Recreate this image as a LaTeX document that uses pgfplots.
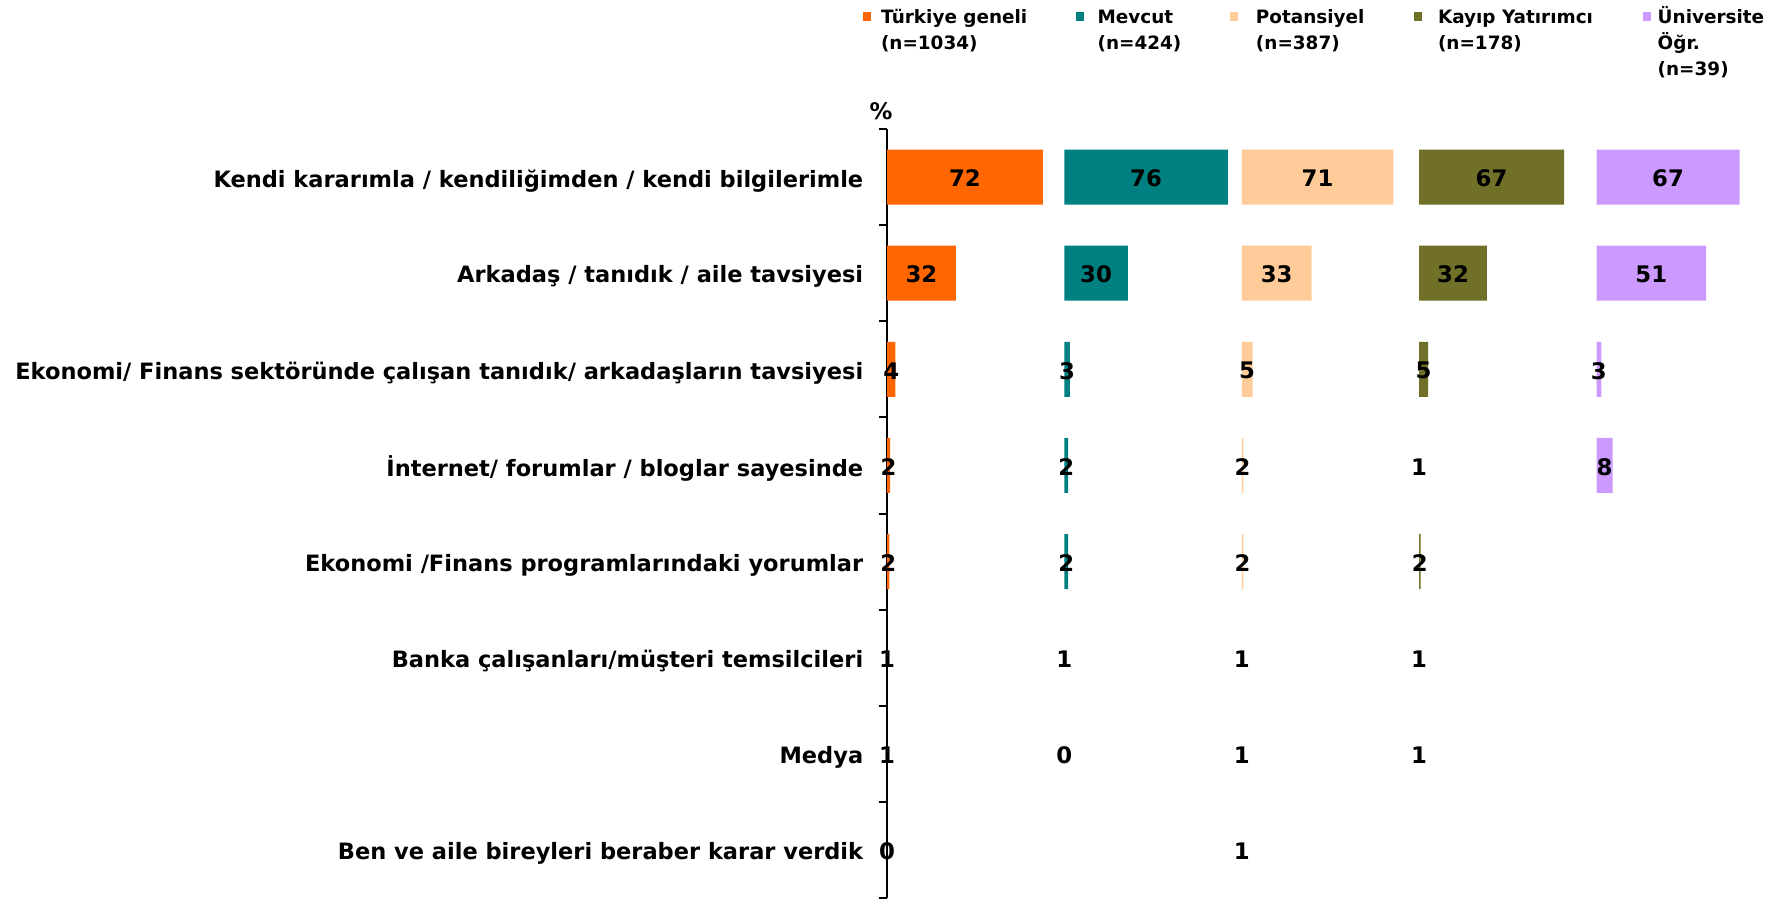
\documentclass[border=0pt]{standalone}
\usepackage{pgfplots}
\pgfplotsset{compat=1.18}
\usepackage{pgfplotstable}
\usepackage{fontspec}
\setmainfont{DejaVu Sans}

\definecolor{cOr}{RGB}{255,102,0}
\definecolor{cTe}{RGB}{0,128,128}
\definecolor{cPe}{RGB}{255,204,153}
\definecolor{cOl}{RGB}{112,112,40}
\definecolor{cLa}{RGB}{204,153,255}

\pgfplotstableread{
row bar lab
1 72.5 72
2 32 32
3 3.9 4
4 1.4 2
5 1.1 2
6 0 1
7 0 1
8 0 0
}\tT
\pgfplotstableread{
row bar lab
1 76 76
2 29.5 30
3 2.5 3
4 1.7 2
5 1.7 2
6 0 1
7 0 0
}\tM
\pgfplotstableread{
row bar lab
1 70.5 71
2 32.5 33
3 5 5
4 0.8 2
5 0.8 2
6 0 1
7 0 1
8 0 1
}\tP
\pgfplotstableread{
row bar lab
1 67.4 67
2 31.5 32
3 4.2 5
4 0 1
5 0.7 2
6 0 1
7 0 1
}\tK
\pgfplotstableread{
row bar lab
1 66.5 67
2 51 51
3 2.2 3
4 7.5 8
}\tU

\pgfplotsset{
  panel/.style={scale only axis, width=430pt, height=384.5pt,
    ymin=0.5, ymax=8.5, y dir=reverse,
    at={(443.5pt,1pt)}, anchor=south west, clip=false,
    legend style={draw=none, fill=none, inner sep=0pt, outer sep=0pt,
      anchor=north west, font=\fontsize{9.2}{13.2}\selectfont\bfseries,
      cells={anchor=base west}, nodes={inner sep=0pt}}},
  barplot/.style={xbar, bar width=27.5pt, draw=none, fill=#1,
    restrict x to domain=0.01:1000,
    legend image code/.code={\fill[##1] (0pt,0.85pt) rectangle (4.2pt,5.35pt);}},
  labplot/.style={only marks, mark=*, mark size=0pt,
    mark options={draw=none, fill=none}, forget plot,
    point meta=explicit symbolic, nodes near coords={\pgfplotspointmeta},
    every node near coord/.append style={font=\fontsize{11.4}{13}\selectfont\bfseries,
      anchor=center, inner sep=0pt, text=black, yshift=-0.7pt}}
}

\begin{document}
\begin{tikzpicture}
\path[use as bounding box] (0,0) rectangle (890.5pt,450pt);
% Panel 1: Türkiye geneli (with the category axis)
\begin{axis}[panel, xmin=0, xmax=400,
  axis x line=none, axis y line*=left,
  axis line style={black, line width=1pt},
  ytick={0.5,1.5,2.5,3.5,4.5,5.5,6.5,7.5,8.5},
  yticklabels={Kendi kararımla / kendiliğimden / kendi bilgilerimle,
    Arkadaş / tanıdık / aile tavsiyesi,
    Ekonomi/ Finans sektöründe çalışan tanıdık/ arkadaşların tavsiyesi,
    İnternet/ forumlar / bloglar sayesinde,
    Ekonomi /Finans programlarındaki yorumlar,
    Banka çalışanları/müşteri temsilcileri,
    Medya,
    Ben ve aile bireyleri beraber karar verdik,{}},
  yticklabel style={font=\fontsize{11.25}{13}\selectfont\bfseries, anchor=east,
    inner sep=0pt, yshift=-25.8pt, xshift=-7.5pt},
  tick align=outside, major tick length=4.2pt,
  ytick style={black, line width=1pt},
  legend style={at={(axis description cs:-0.0279,1.1618)},
    /tikz/every odd column/.append style={column sep=4.8pt}}]
\addplot[barplot=cOr] table[x=bar, y=row] {\tT};
\addlegendentry{\begin{tabular}[t]{@{}l@{}}Türkiye geneli\\(n=1034)\end{tabular}}
\addplot[labplot] table[x expr=\thisrow{bar}/2, y=row, meta=lab] {\tT};
\node[font=\fontsize{11.4}{13}\selectfont\bfseries, inner sep=0pt, anchor=south, yshift=4.5pt]
  at (axis description cs:-0.007,1) {\%};
\end{axis}
% Panel 2: Mevcut
\begin{axis}[panel, hide axis, xmin=-82.5, xmax=317.5,
  legend style={at={(axis description cs:0.2193,1.1618)},
    /tikz/every odd column/.append style={column sep=6.8pt}}]
\addplot[barplot=cTe] table[x=bar, y=row] {\tM};
\addlegendentry{\begin{tabular}[t]{@{}l@{}}Mevcut\\(n=424)\end{tabular}}
\addplot[labplot] table[x expr=\thisrow{bar}/2, y=row, meta=lab] {\tM};
\end{axis}
% Panel 3: Potansiyel
\begin{axis}[panel, hide axis, xmin=-165, xmax=235,
  legend style={at={(axis description cs:0.3988,1.1618)},
    /tikz/every odd column/.append style={column sep=8.8pt}}]
\addplot[barplot=cPe] table[x=bar, y=row] {\tP};
\addlegendentry{\begin{tabular}[t]{@{}l@{}}Potansiyel\\(n=387)\end{tabular}}
\addplot[labplot] table[x expr=\thisrow{bar}/2, y=row, meta=lab] {\tP};
\end{axis}
% Panel 4: Kayıp Yatırımcı
\begin{axis}[panel, hide axis, xmin=-247.5, xmax=152.5,
  legend style={at={(axis description cs:0.6128,1.1618)},
    /tikz/every odd column/.append style={column sep=7.8pt}}]
\addplot[barplot=cOl] table[x=bar, y=row] {\tK};
\addlegendentry{\begin{tabular}[t]{@{}l@{}}Kayıp Yatırımcı\\(n=178)\end{tabular}}
\addplot[labplot] table[x expr=\thisrow{bar}/2, y=row, meta=lab] {\tK};
\end{axis}
% Panel 5: Üniversite Öğr.
\begin{axis}[panel, hide axis, xmin=-330, xmax=70,
  legend style={at={(axis description cs:0.8787,1.1618)},
    /tikz/every odd column/.append style={column sep=3.3pt}}]
\addplot[barplot=cLa] table[x=bar, y=row] {\tU};
\addlegendentry{\begin{tabular}[t]{@{}l@{}}Üniversite\\Öğr.\\(n=39)\end{tabular}}
\addplot[labplot] table[x expr=\thisrow{bar}/2, y=row, meta=lab] {\tU};
\end{axis}
\end{tikzpicture}
\end{document}
